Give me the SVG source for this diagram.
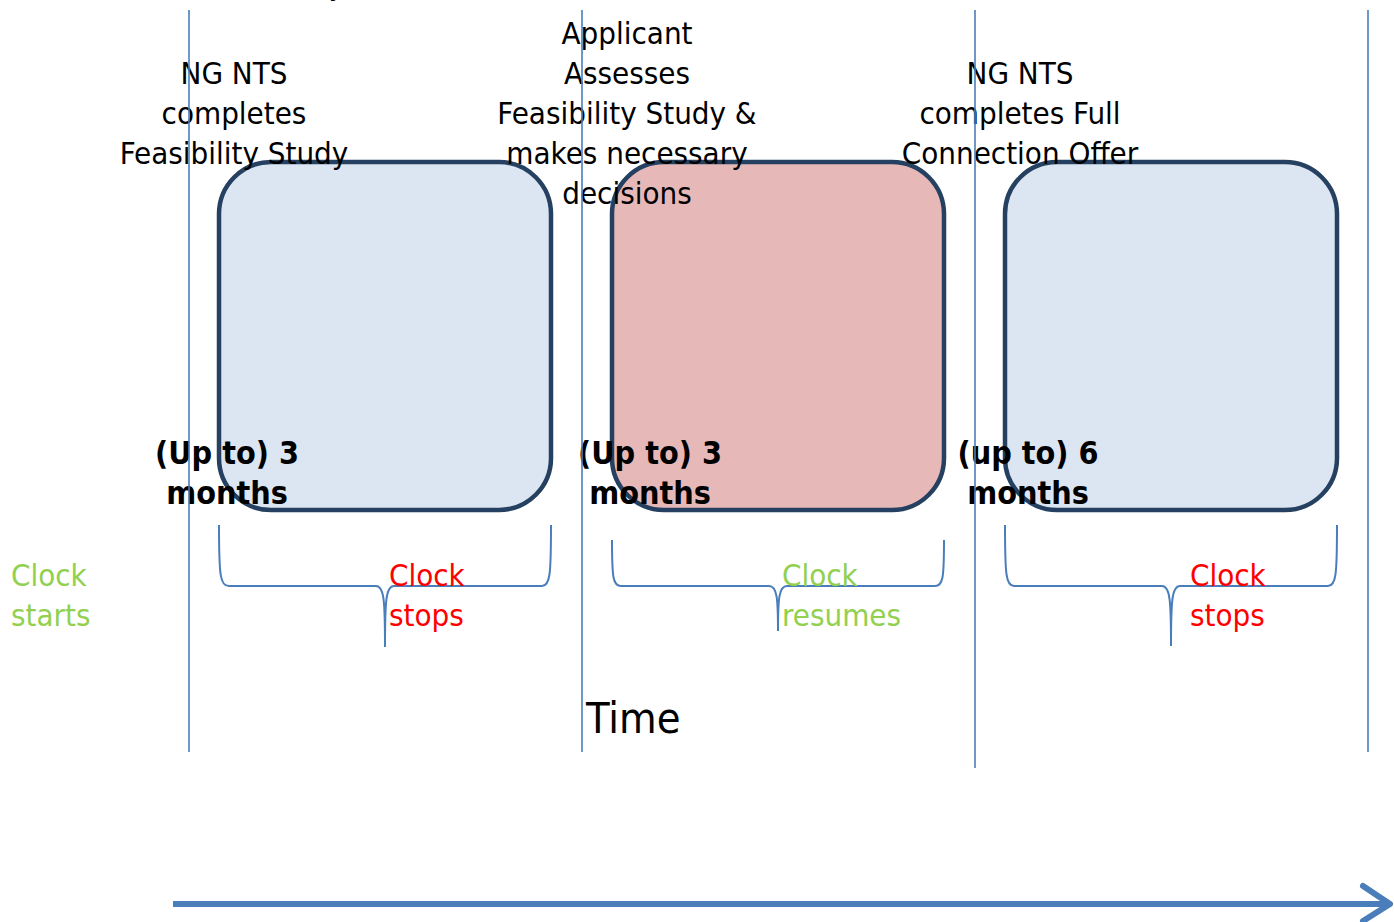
<svg xmlns="http://www.w3.org/2000/svg" width="1394" height="922" viewBox="0 0 1394 922">
<style>
.vl{stroke:#4a7ebb;stroke-width:1.6;fill:none}
.box{stroke:#254061;stroke-width:4.5}
.blue{fill:#dce6f2}
.pink{fill:#e6b9b8}
.t{font-family:"DejaVu Sans Condensed","DejaVu Sans",sans-serif;font-size:31px;fill:#000;text-anchor:middle}
.b{font-family:"DejaVu Sans Condensed","DejaVu Sans",sans-serif;font-size:32px;font-weight:bold;fill:#000;text-anchor:middle}
.g{font-family:"DejaVu Sans Condensed","DejaVu Sans",sans-serif;font-size:31px;fill:#92d050}
.r{font-family:"DejaVu Sans Condensed","DejaVu Sans",sans-serif;font-size:31px;fill:#ff0000}
.brace{stroke:#4a7ebb;stroke-width:2;fill:none}
</style>
<g id="boxes">
<g id="box1"><rect class="box blue" x="219" y="162" width="332" height="348" rx="52"/></g>
<g id="box2"><rect class="box pink" x="612" y="162" width="332" height="348" rx="52"/></g>
<g id="box3"><rect class="box blue" x="1005" y="162" width="332" height="348" rx="52"/></g>
</g>
<g id="labels">
<text class="t" x="337" y="-5">y</text>
<g id="label1"><text class="t" x="234" y="84">NG NTS</text><text class="t" x="234" y="124">completes</text><text class="t" x="234" y="164">Feasibility Study</text></g>
<g id="label2"><text class="t" x="627" y="44">Applicant</text><text class="t" x="627" y="84">Assesses</text><text class="t" x="627" y="124">Feasibility Study &amp;</text><text class="t" x="627" y="164">makes necessary</text><text class="t" x="627" y="204">decisions</text></g>
<g id="label3"><text class="t" x="1020" y="84">NG NTS</text><text class="t" x="1020" y="124">completes Full</text><text class="t" x="1020" y="164">Connection Offer</text></g>
<g id="dur1"><text class="b" x="227" y="464">(Up to) 3</text><text class="b" x="227" y="504">months</text></g>
<g id="dur2"><text class="b" x="650" y="464">(Up to) 3</text><text class="b" x="650" y="504">months</text></g>
<g id="dur3"><text class="b" x="1028" y="464">(up to) 6</text><text class="b" x="1028" y="504">months</text></g>
</g>
<g id="connectors">
<line class="vl" x1="189" y1="10" x2="189" y2="752"/>
<line class="vl" x1="582" y1="10" x2="582" y2="752"/>
<line class="vl" x1="975" y1="10" x2="975" y2="768"/>
<line class="vl" x1="1368" y1="10" x2="1368" y2="752"/>
<path class="brace" d="M219,525 C219,575 220,586 229,586 L376,586 C384,586 385,600 385,647 C385,600 386,586 394,586 L542,586 C550,586 551,575 551,525"/>
<path class="brace" d="M612,540 C612,578 613,586 621,586 L769,586 C777,586 778,598 778,631 C778,598 779,586 787,586 L935,586 C943,586 944,578 944,540"/>
<path class="brace" d="M1005,525 C1005,575 1006,586 1014,586 L1162,586 C1170,586 1171,600 1171,646 C1171,600 1172,586 1180,586 L1328,586 C1336,586 1337,575 1337,525"/>
<g id="timearrow">
<line x1="173" y1="904" x2="1388" y2="904" stroke="#4a7ebb" stroke-width="6"/>
<polyline points="1363,886 1390,904 1363,921" fill="none" stroke="#4a7ebb" stroke-width="6" stroke-linecap="round" stroke-linejoin="round"/>
</g>
</g>
<g id="clocks">
<g id="c1"><text class="g" x="11" y="586">Clock</text><text class="g" x="11" y="626">starts</text></g>
<g id="c2"><text class="r" x="389" y="586">Clock</text><text class="r" x="389" y="626">stops</text></g>
<g id="c3"><text class="g" x="782" y="586">Clock</text><text class="g" x="782" y="626">resumes</text></g>
<g id="c4"><text class="r" x="1190" y="586">Clock</text><text class="r" x="1190" y="626">stops</text></g>
</g>
<text id="time" x="586" y="733" font-family="'DejaVu Sans Condensed','DejaVu Sans',sans-serif" font-size="43">Time</text>
</svg>
